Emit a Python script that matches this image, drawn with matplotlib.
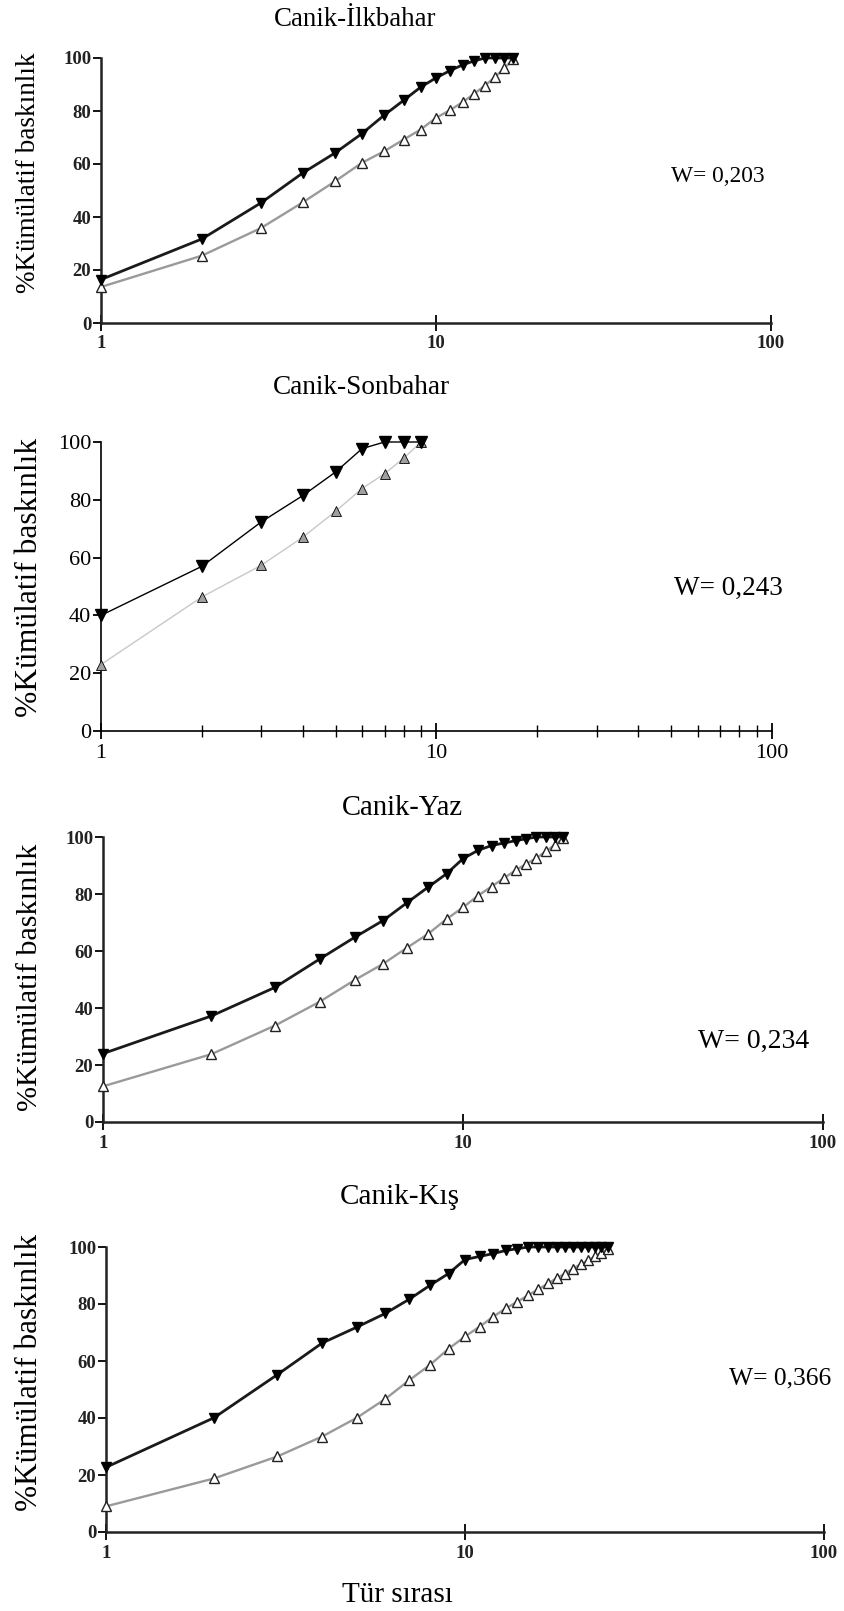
import numpy as np
import matplotlib
matplotlib.use("Agg")
from matplotlib import pyplot as plt

plt.rcParams['font.family'] = ['Liberation Serif', 'DejaVu Serif']

# k-dominance values (%), filled = biomass-like curve, open = abundance-like curve
ilkbahar_filled = [16.4, 31.7, 45.3, 56.6, 64.2, 71.4, 78.4, 84.0, 89.0, 92.5,
                   95.2, 97.4, 98.9, 100, 100, 100, 100]
ilkbahar_open = [13.6, 25.4, 35.8, 45.5, 53.5, 60.4, 64.8, 69.2, 73.0, 77.4,
                 80.3, 83.3, 86.5, 89.6, 92.8, 96.2, 99.5]

sonbahar_filled = [40.0, 57.0, 72.3, 81.5, 89.6, 97.7, 100, 100, 100]
sonbahar_open = [23.0, 46.4, 57.3, 67.1, 76.0, 83.9, 89.0, 94.5, 100]

yaz_filled = [24.0, 37.2, 47.2, 57.2, 64.8, 70.7, 77.0, 82.4, 87.1, 92.4,
              95.3, 97.0, 97.9, 98.7, 99.4, 100, 100, 100, 100]
yaz_open = [12.5, 23.8, 33.8, 42.2, 49.8, 55.5, 61.2, 66.0, 71.2, 75.3,
            79.4, 82.6, 85.6, 88.3, 90.6, 92.6, 95.0, 97.3, 99.5]

kis_filled = [22.7, 40.1, 55.2, 66.3, 71.9, 76.7, 81.7, 86.6, 90.7, 95.6,
              96.7, 97.7, 98.8, 99.4, 100, 100, 100, 100, 100, 100,
              100, 100, 100, 100, 100]
kis_open = [9.0, 18.8, 26.5, 33.5, 40.1, 46.7, 53.3, 58.7, 64.3, 68.6,
            72.1, 75.6, 78.5, 80.8, 83.1, 85.1, 87.2, 89.0, 90.7, 92.4,
            94.0, 95.3, 96.7, 97.9, 99.3]

titles = ["Canik-İlkbahar", "Canik-Sonbahar", "Canik-Yaz", "Canik-Kış"]
w_labels = ["W= 0,203", "W= 0,243", "W= 0,234", "W= 0,366"]
y_ticks = [0, 20, 40, 60, 80, 100]
x_ticks = [1, 10, 100]
x_ticklabels = ["1", "10", "100"]

W, H = 845, 1611
fig = plt.figure(figsize=(W / 100, H / 100), dpi=100)


def px_axes(x0, x1, y0, y1):
    return fig.add_axes([x0 / W, 1 - y1 / H, (x1 - x0) / W, (y1 - y0) / H])


def px_text(x, y, s, **kw):
    fig.text(x / W, 1 - y / H, s, **kw)


# panel boxes in pixels (left, right, top, bottom)
boxes = [(101, 771, 58, 323), (101, 772, 442, 731),
         (103, 823, 837, 1122), (106, 824, 1247, 1532)]
series = [(ilkbahar_filled, ilkbahar_open), (sonbahar_filled, sonbahar_open),
          (yaz_filled, yaz_open), (kis_filled, kis_open)]

for i, (box, (filled, opn)) in enumerate(zip(boxes, series)):
    ax = px_axes(*box)
    r1 = np.arange(1, len(filled) + 1)
    r2 = np.arange(1, len(opn) + 1)
    if i == 1:
        ax.plot(r2, opn, color='#c8c8c8', lw=1.0, marker='^', ms=7,
                mfc='#a0a0a0', mec='black', mew=0.6, clip_on=False, zorder=3)
        ax.plot(r1, filled, color='black', lw=1.0, marker='v', ms=8,
                mfc='black', mec='black', clip_on=False, zorder=4)
    else:
        ax.plot(r2, opn, color='#9a9a9a', lw=1.7, marker='^', ms=6.5,
                mfc='white', mec='#222222', mew=1.0, clip_on=False, zorder=3)
        ax.plot(r1, filled, color='#1a1a1a', lw=2.0, marker='v', ms=7.5,
                mfc='black', mec='black', clip_on=False, zorder=4)
    ax.set_xscale('log')
    ax.set_xlim(1, 100)
    ax.set_ylim(0, 100)
    ax.set_yticks(y_ticks)
    ax.set_xticks(x_ticks)
    ax.set_xticklabels(x_ticklabels)
    if i != 1:
        ax.xaxis.set_minor_locator(matplotlib.ticker.NullLocator())
    ax.spines['top'].set_visible(False)
    ax.spines['right'].set_visible(False)
    for s in ['left', 'bottom']:
        ax.spines[s].set_linewidth(1.8 if i != 1 else 1.2)
        ax.spines[s].set_color('#222222' if i != 1 else 'black')
    ax.tick_params(axis='y', direction='out', length=6, width=1.3, pad=1)
    ax.tick_params(axis='x', which='major', direction='inout', length=12,
                   width=1.3, pad=3)
    ax.tick_params(axis='x', which='minor', direction='inout', length=8, width=1.0)
    if i == 1:
        for lab in ax.get_xticklabels() + ax.get_yticklabels():
            lab.set_fontsize(16)
    else:
        for lab in ax.get_xticklabels() + ax.get_yticklabels():
            lab.set_fontsize(13.5)
            lab.set_fontweight('bold')
            lab.set_color('#222222')
    ax.patch.set_alpha(0)

# titles
px_text(355, 20, titles[0], fontsize=19.4, ha='center', va='center')
px_text(361, 388, titles[1], fontsize=19.6, ha='center', va='center')
px_text(402, 808, titles[2], fontsize=20.6, ha='center', va='center')
px_text(400, 1197, titles[3], fontsize=21, ha='center', va='center')

# y labels
ylab = "%Kümülatif baskınlık"
px_text(29, 173, ylab, fontsize=19.5, rotation=90, ha='center', va='center')
px_text(30, 577, ylab, fontsize=22.7, rotation=90, ha='center', va='center')
px_text(30, 977, ylab, fontsize=21.7, rotation=90, ha='center', va='center')
px_text(30, 1372, ylab, fontsize=22.5, rotation=90, ha='center', va='center')

# W statistics
px_text(718, 177, w_labels[0], fontsize=16.8, ha='center', va='center')
px_text(728, 588, w_labels[1], fontsize=19.5, ha='center', va='center')
px_text(754, 1041, w_labels[2], fontsize=20, ha='center', va='center')
px_text(780, 1378, w_labels[3], fontsize=18.4, ha='center', va='center')

# x label
px_text(397, 1595, "Tür sırası", fontsize=21, ha='center', va='center')

fig.savefig("out.png", dpi=100, facecolor='white')
